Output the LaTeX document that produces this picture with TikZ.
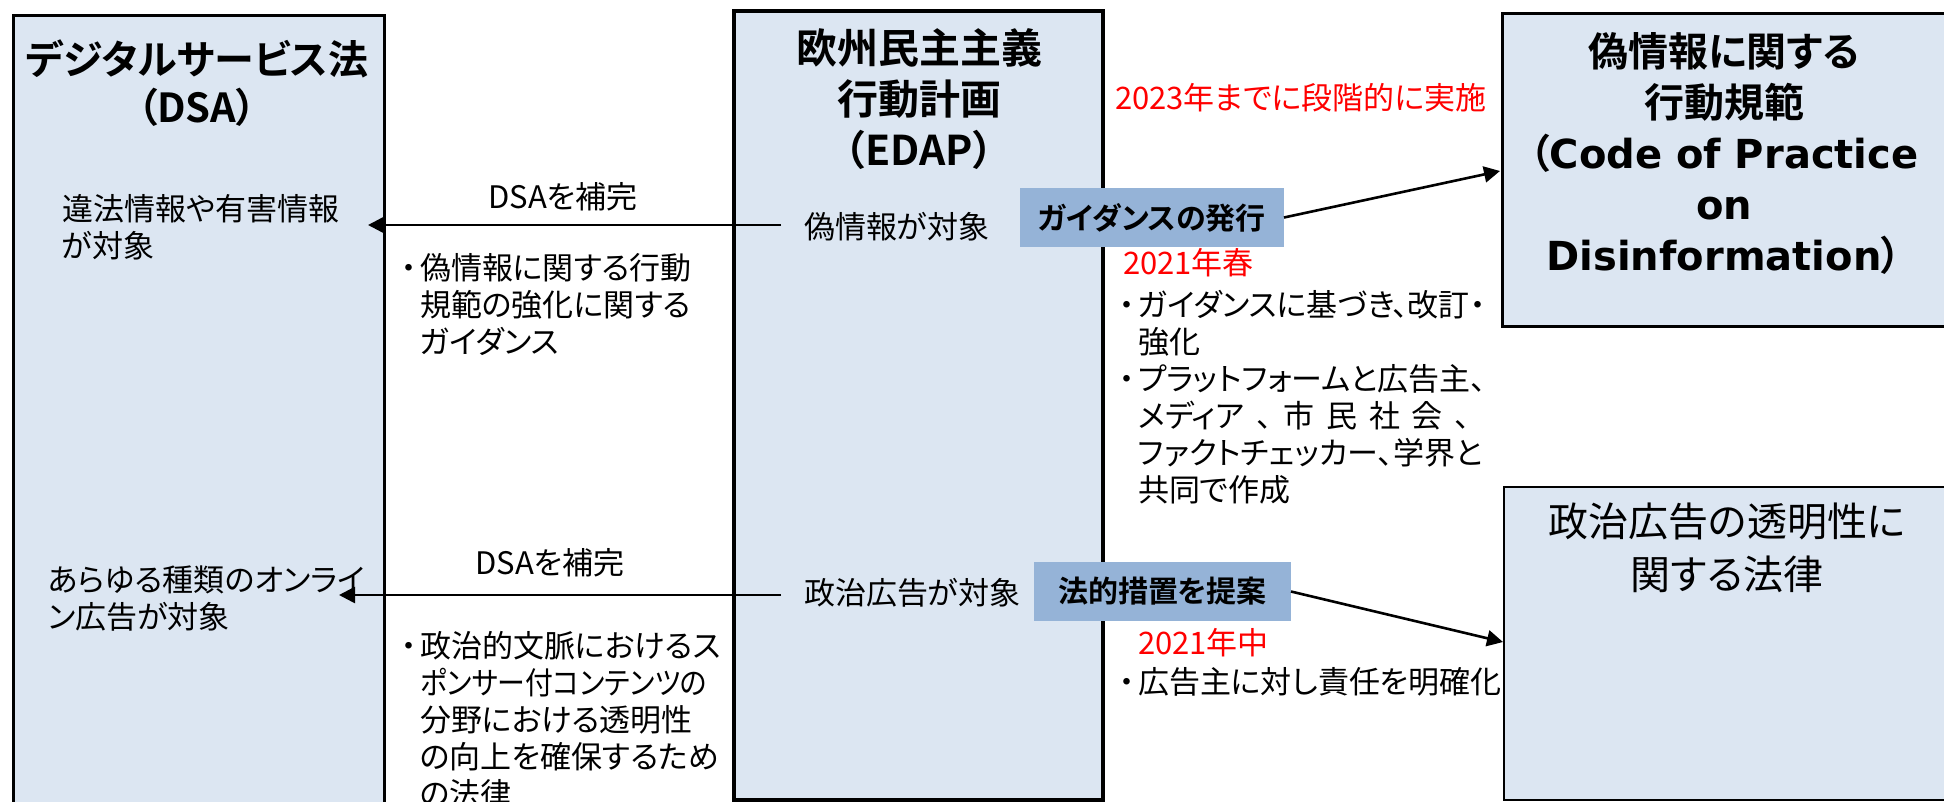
\documentclass[tikz,border=0pt]{standalone}
\usepackage{graphicx}
\usepackage{fontspec}
\setmainfont{Noto Sans CJK JP}[RawFeature=+palt, BoldFont={Noto Sans CJK JP Bold}]
\newfontfamily\latinfont{DejaVu Sans}
\usetikzlibrary{arrows.meta}
\definecolor{boxfill}{HTML}{DCE6F2}
\definecolor{labfill}{HTML}{95B3D7}
\definecolor{redtxt}{HTML}{FF0000}
\newcommand\bul{\makebox[22pt][c]{・}}
\newcommand\ind{\hspace*{22pt}}
\tikzset{
  panel/.style={draw=black, fill=boxfill, inner sep=0pt, outer sep=0pt, anchor=north west},
  body/.style={inner sep=0pt, outer sep=0pt, align=left, anchor=west, font=\fontsize{31}{37}\selectfont},
  centred/.style={inner sep=0pt, outer sep=0pt, align=center, font=\fontsize{31}{37}\selectfont},
  ttl/.style={inner sep=0pt, outer sep=0pt, align=center},
  lab/.style={fill=labfill, inner sep=0pt, outer sep=0pt, font=\fontsize{30}{36}\selectfont\bfseries},
  redt/.style={body, text=redtxt},
  arr/.style={line width=2.6pt, -{Triangle[length=16pt,width=16pt]}}
}
\begin{document}
\begin{tikzpicture}[x=1pt,y=-1pt]
\useasboundingbox (0,0) rectangle (1944,801);
% panels
\node[panel, line width=3pt, minimum width=371pt, minimum height=795pt] (dsa) at (13,15) {};
\node[panel, line width=4.5pt, minimum width=369pt, minimum height=789pt] (edap) at (734,11) {};
\node[panel, line width=3pt, minimum width=470pt, minimum height=313pt] (cop) at (1502,13) {};
\node[panel, line width=1.5pt, minimum width=470pt, minimum height=313pt] (pol) at (1504,487) {};
% titles
\node[ttl, font=\fontsize{40}{48}\selectfont\bfseries] (dsaT) at (197,83) {デジタルサービス法\\（DSA）};
\node[ttl, font=\fontsize{41}{51}\selectfont\bfseries] (edapT) at (919,99) {欧州民主主義\\行動計画\\（EDAP）};
\node[ttl, font=\fontsize{40}{51}\selectfont\bfseries] (copT) at (1724,153) {偽情報に関する\\行動規範\\（{\latinfont Code of Practice}\\{\latinfont on}\\{\latinfont Disinformation}）};
\node[ttl, font=\fontsize{40}{53}\selectfont] (polT) at (1727,548) {政治広告の透明性に\\関する法律};
% DSA side
\node[body] (dsaB1) at (62,227) {違法情報や有害情報\\が対象};
\node[body] (dsaB2) at (48,599) {あらゆる種類のオンライ\\ン広告が対象};
% middle-left
\node[centred] (cmp1) at (563,197) {DSAを補完};
\node[centred] (cmp2) at (550,563) {DSAを補完};
\node[body] (g1) at (398,305) {\bul 偽情報に関する行動\\\ind 規範の強化に関する\\\ind ガイダンス};
\node[body] (g2) at (398,720) {\bul 政治的文脈におけるス\\\ind\scalebox{0.9}[1]{ポンサー付コンテンツの}\\\ind 分野における透明性\\\ind の向上を確保するため\\\ind の法律};
% EDAP items
\node[body] (t1) at (804,227) {偽情報が対象};
\node[body] (t2) at (804,593) {政治広告が対象};
\node[lab, minimum width=264pt, minimum height=59pt] (lab1) at (1152,217.5) {ガイダンスの発行};
\node[lab, minimum width=257pt, minimum height=59pt] (lab2) at (1162.5,591.5) {法的措置を提案};
% right-middle texts
\node[redt] (r1) at (1115,98) {2023年までに段階的に実施};
\node[redt] (r2) at (1123,263) {2021年春};
\node[body] (b1) at (1116,397) {\bul ガイダンスに基づき、改訂・\\\ind 強化\\\bul プラットフォームと広告主、\\\ind\makebox[332pt][s]{メディア\hfill 、\hfill 市\hfill 民\hfill 社\hfill 会\hfill 、}\\\ind ファクトチェッカー、学界と\\\ind 共同で作成};
\node[redt] (r3) at (1138,643) {2021年中};
\node[body] (b2) at (1116,682) {\bul 広告主に対し責任を明確化};
% connector ends
\coordinate (s1) at (781,225);
\coordinate (e1) at (368,225);
\coordinate (s2) at (781,595);
\coordinate (e2) at (339,595);
\coordinate (e3) at (1500,171);
\coordinate (e4) at (1503,642);
% connectors
\draw[arr] (s1) -- (e1);
\draw[arr] (s2) -- (e2);
\draw[arr] (lab1.east) -- (e3);
\draw[arr] (lab2.east) -- (e4);
\end{tikzpicture}
\end{document}
